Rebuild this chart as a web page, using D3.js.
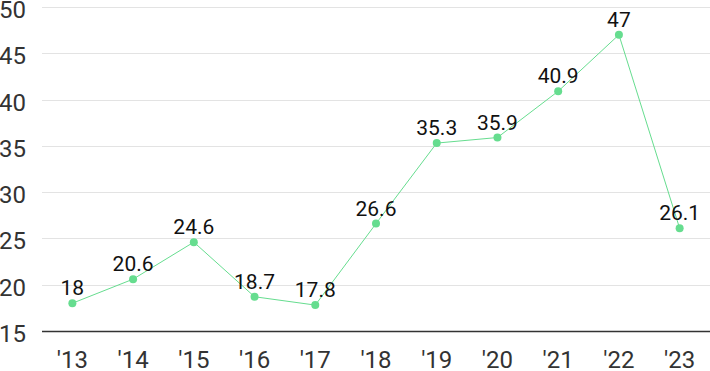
<!DOCTYPE html>
<html>
<head>
<meta charset="utf-8">
<script src="https://cdn.jsdelivr.net/npm/d3@7"></script>
<style>
  body { margin: 0; background: #fff; }
  svg { display: block; font-family: Roboto, "Noto Sans", sans-serif; }
</style>
</head>
<body>
<div id="chart"></div>
<script>
var years = ["'13", "'14", "'15", "'16", "'17", "'18", "'19", "'20", "'21", "'22", "'23"];
var values = [18, 20.6, 24.6, 18.7, 17.8, 26.6, 35.3, 35.9, 40.9, 47, 26.1];
var yTicks = [15, 20, 25, 30, 35, 40, 45, 50];

var width = 710, height = 371;
var margin = {top: 7, right: 0, bottom: 40, left: 42};
var color = '#66dd8f';

var data = years.map(function(d, i) { return {year: d, value: values[i]}; });

var x = d3.scalePoint()
    .domain(years)
    .range([margin.left, width - margin.right])
    .padding(0.5);
var y = d3.scaleLinear()
    .domain([15, 50])
    .range([height - margin.bottom, margin.top]);

var svg = d3.select('#chart')
    .append('svg')
    .attr('width', width)
    .attr('height', height);

// gridlines + y labels
var yAxis = svg.append('g').attr('class', 'yaxis');
yAxis.selectAll('line')
    .data(yTicks)
    .enter().append('line')
    .attr('x1', margin.left)
    .attr('x2', width - margin.right)
    .attr('y1', function(d) { return Math.round(y(d)) + 0.5; })
    .attr('y2', function(d) { return Math.round(y(d)) + 0.5; })
    .attr('stroke', function(d) { return d === 15 ? '#333' : '#e3e3e3'; })
    .attr('stroke-width', function(d) { return d === 15 ? 1.5 : 1; });
yAxis.selectAll('text')
    .data(yTicks)
    .enter().append('text')
    .attr('x', 26)
    .attr('y', function(d) { return y(d) + 11; })
    .attr('text-anchor', 'end')
    .attr('font-size', '24px')
    .attr('fill', '#333')
    .text(function(d) { return d; });

// x labels
svg.append('g')
    .selectAll('text')
    .data(years)
    .enter().append('text')
    .attr('x', function(d) { return x(d); })
    .attr('y', 368)
    .attr('text-anchor', 'middle')
    .attr('font-size', '24px')
    .attr('fill', '#333')
    .text(function(d) { return d; });

var line = d3.line()
    .x(function(d) { return x(d.year); })
    .y(function(d) { return y(d.value); });

svg.append('path')
    .datum(data)
    .attr('d', line)
    .attr('fill', 'none')
    .attr('stroke', color)
    .attr('stroke-width', 1);

svg.selectAll('.dot')
    .data(data)
    .enter().append('circle')
    .attr('class', 'dot')
    .attr('cx', function(d) { return x(d.year); })
    .attr('cy', function(d) { return y(d.value); })
    .attr('r', 4)
    .attr('fill', color);

svg.selectAll('.vlabel')
    .data(data)
    .enter().append('text')
    .attr('class', 'vlabel')
    .attr('x', function(d) { return x(d.year); })
    .attr('y', function(d) { return y(d.value) - 8; })
    .attr('text-anchor', 'middle')
    .attr('font-size', '21px')
    .attr('fill', '#111')
    .text(function(d) { return d.value; });
</script>
</body>
</html>
